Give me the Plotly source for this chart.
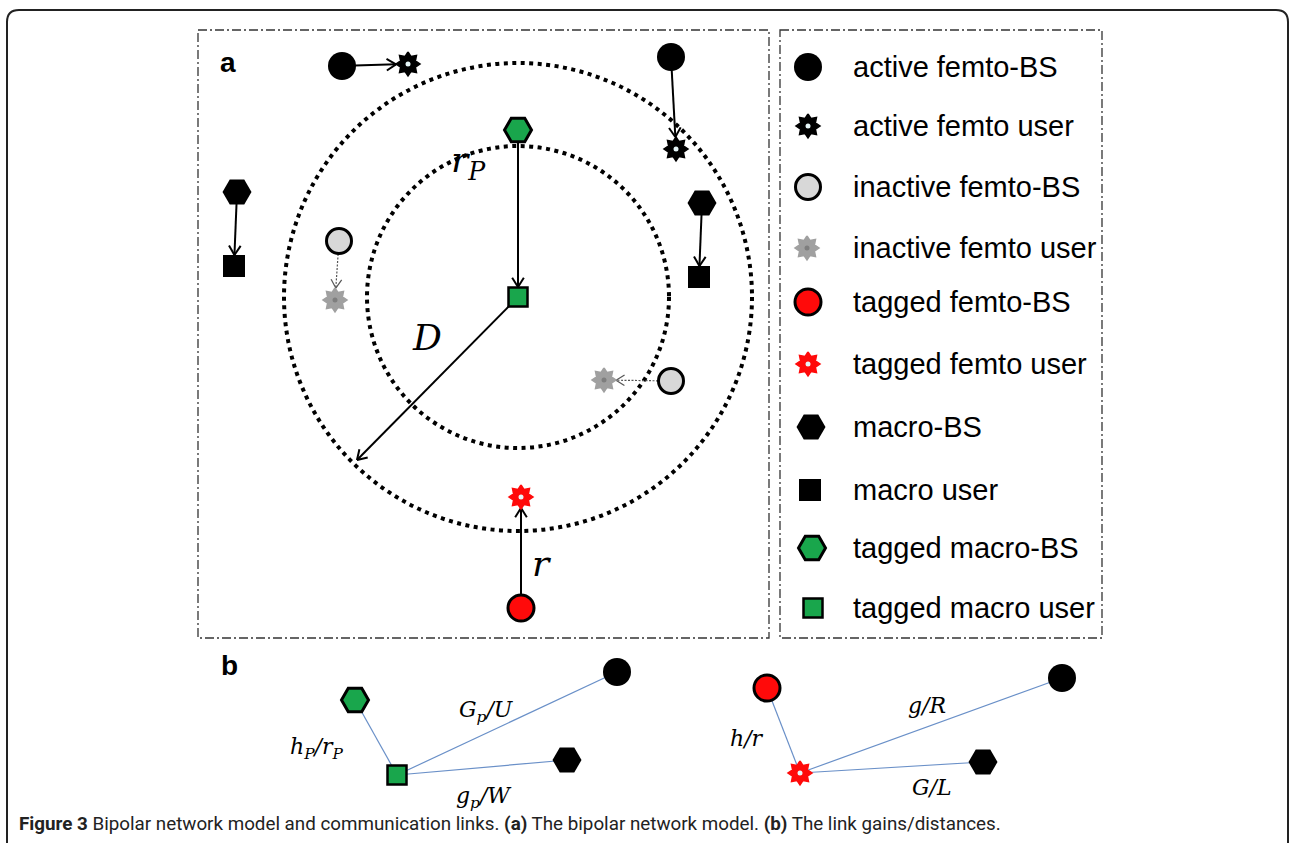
import numpy as np
import plotly.graph_objects as go

W, H = 1290, 843

# ---------------- panel (a): node positions in page pixels ----------------
active_bs_x = [342, 671]
active_bs_y = [66, 57]
active_user_x = [408, 676]
active_user_y = [64, 149]
inactive_bs_x = [339, 671]
inactive_bs_y = [241, 381]
inactive_user_x = [335, 604]
inactive_user_y = [300, 380]
macro_bs_x = [237, 702]
macro_bs_y = [192, 203]
macro_user_x = [234, 699]
macro_user_y = [266, 277]
tagged_macro_bs = (518, 130)
tagged_macro_user = (518, 297)
tagged_femto_bs = (521, 608)
tagged_femto_user = (521, 497)
inner_radius = 151
outer_radius = 234
d_arrow_tip = (357, 460)

# ---------------- legend ----------------
legend_labels = ["active femto-BS", "active femto user", "inactive femto-BS",
                 "inactive femto user", "tagged femto-BS", "tagged femto user",
                 "macro-BS", "macro user", "tagged macro-BS", "tagged macro user"]
legend_kinds = ["abs", "auser", "ibs", "iuser", "tbs", "tuser",
                "mbs", "muser", "tmbs", "tmuser"]
legend_y = [67, 126, 187, 248, 302, 364, 427, 490, 548, 608]
legend_sym_x = [808, 808, 808, 807, 808, 808, 811, 810, 812, 813]

# ---------------- panel (b): link diagrams ----------------
b_left_user = (397, 775)
b_left_nodes = {"tmbs": (355, 700), "abs": (617, 672), "mbs": (567, 760)}
b_left_labels = ["h<sub>P</sub>/r<sub>P</sub>", "G<sub>p</sub>/U", "g<sub>p</sub>/W"]
b_left_label_xy = [(316, 748), (486, 711), (484, 797)]
b_right_user = (800, 773)
b_right_nodes = {"tbs": (767, 688), "abs": (1062, 678), "mbs": (983, 762)}
b_right_labels = ["h/r", "g/R", "G/L"]
b_right_label_xy = [(747, 738), (927, 705), (932, 787)]

GREEN = "#19a64c"
RED = "#ff0a0a"
GRAY_FILL = "#d8d8d8"
STAR_GRAY = "#a0a0a0"
LINK_BLUE = "#6a90c8"

fig = go.Figure()
shapes = []
annotations = []


def add_line(x0, y0, x1, y1, color="black", width=2, dash="solid"):
    shapes.append(dict(type="line", x0=x0, y0=y0, x1=x1, y1=y1, layer="below",
                       line=dict(color=color, width=width, dash=dash)))


def add_arrow(p0, p1, gap0=0, gap1=0, color="black", width=2, dash="solid", head=11):
    x0, y0 = p0
    x1, y1 = p1
    d = np.hypot(x1 - x0, y1 - y0)
    ux, uy = (x1 - x0) / d, (y1 - y0) / d
    sx, sy = x0 + ux * gap0, y0 + uy * gap0
    tx, ty = x1 - ux * gap1, y1 - uy * gap1
    add_line(sx, sy, tx, ty, color, width, dash)
    ang = np.radians(32)
    for s in (1, -1):
        c, sn = np.cos(s * ang), np.sin(s * ang)
        hx = -(ux * c - uy * sn) * head
        hy = -(ux * sn + uy * c) * head
        add_line(tx, ty, tx + hx, ty + hy, color, width if dash == "solid" else 1.2)


def star(cx, cy, fill, dot, r_out=12, r_in=8, n=8):
    ang = np.linspace(0, 2 * np.pi, 2 * n + 1) - np.pi / 2
    rad = np.where(np.arange(2 * n + 1) % 2 == 0, r_out, r_in)
    fig.add_trace(go.Scatter(x=cx + rad * np.cos(ang), y=cy + rad * np.sin(ang),
                             mode="lines", fill="toself", fillcolor=fill,
                             line=dict(color=fill, width=1.5), hoverinfo="skip",
                             showlegend=False))
    fig.add_trace(go.Scatter(x=[cx], y=[cy], mode="markers", hoverinfo="skip",
                             marker=dict(size=5, color=dot, line=dict(width=0)),
                             showlegend=False))


def node(kind, x, y):
    xs = x if isinstance(x, list) else [x]
    ys = y if isinstance(y, list) else [y]
    if kind in ("auser", "iuser", "tuser"):
        fill, dot = {"auser": ("black", "#e6f6f8"), "iuser": (STAR_GRAY, "#7e7e7e"),
                     "tuser": (RED, "#e6f6f8")}[kind]
        for a, b in zip(xs, ys):
            star(a, b, fill, dot)
        return
    style = {
        "abs": dict(symbol="circle", size=28, color="black", line=dict(color="black", width=0)),
        "ibs": dict(symbol="circle", size=25, color=GRAY_FILL, line=dict(color="black", width=3)),
        "tbs": dict(symbol="circle", size=26, color=RED, line=dict(color="black", width=3)),
        "mbs": dict(symbol="hexagon2", size=29, color="black", line=dict(color="black", width=0)),
        "muser": dict(symbol="square", size=22, color="black", line=dict(color="black", width=0)),
        "tmbs": dict(symbol="hexagon2", size=27, color=GREEN, line=dict(color="black", width=3)),
        "tmuser": dict(symbol="square", size=19, color=GREEN, line=dict(color="black", width=2.5)),
    }[kind]
    fig.add_trace(go.Scatter(x=xs, y=ys, mode="markers", marker=style,
                             hoverinfo="skip", showlegend=False))


# outer rounded frame of the figure
fx0, fy0, fx1, fy1, rr = 7, 10, 1288, 870, 12
shapes.append(dict(type="path", layer="below", line=dict(color="#222", width=2),
                   path=(f"M{fx0},{fy1} V{fy0 + rr} Q{fx0},{fy0} {fx0 + rr},{fy0} "
                         f"H{fx1 - rr} Q{fx1},{fy0} {fx1},{fy0 + rr} V{fy1}")))

# dash-dot panel frames
for (x0, y0, x1, y1) in [(198, 30, 769, 638), (780, 30, 1102, 638)]:
    shapes.append(dict(type="rect", x0=x0, y0=y0, x1=x1, y1=y1, layer="below",
                       line=dict(color="#333", width=1.3, dash="9px,3px,2px,3px")))

# coverage circles around the tagged macro user
cx, cy = tagged_macro_user
for r in (inner_radius, outer_radius):
    shapes.append(dict(type="circle", x0=cx - r, y0=cy - r, x1=cx + r, y1=cy + r,
                       layer="below", line=dict(color="black", width=4, dash="4px,4.5px")))

# links in panel (a)
for bx, by, ux_, uy_ in zip(active_bs_x, active_bs_y, active_user_x, active_user_y):
    add_arrow((bx, by), (ux_, uy_), gap0=13, gap1=12)
for bx, by, ux_, uy_ in zip(macro_bs_x, macro_bs_y, macro_user_x, macro_user_y):
    add_arrow((bx, by), (ux_, uy_), gap0=11, gap1=11)
for bx, by, ux_, uy_ in zip(inactive_bs_x, inactive_bs_y, inactive_user_x, inactive_user_y):
    add_arrow((bx, by), (ux_, uy_), gap0=13, gap1=12, color="#555", width=1.2, dash="2px,1.5px", head=10)
add_arrow(tagged_macro_bs, tagged_macro_user, gap0=11, gap1=10)
add_arrow(tagged_macro_user, d_arrow_tip, gap0=11, gap1=0)
add_arrow(tagged_femto_bs, tagged_femto_user, gap0=13, gap1=11)

# links in panel (b)
for p in b_left_nodes.values():
    add_line(b_left_user[0], b_left_user[1], p[0], p[1], LINK_BLUE, 1.2)
for p in b_right_nodes.values():
    add_line(b_right_user[0], b_right_user[1], p[0], p[1], LINK_BLUE, 1.2)

# nodes of panel (a)
node("abs", active_bs_x, active_bs_y)
node("auser", active_user_x, active_user_y)
node("ibs", inactive_bs_x, inactive_bs_y)
node("iuser", inactive_user_x, inactive_user_y)
node("mbs", macro_bs_x, macro_bs_y)
node("muser", macro_user_x, macro_user_y)
node("tmbs", *tagged_macro_bs)
node("tmuser", *tagged_macro_user)
node("tbs", *tagged_femto_bs)
node("tuser", *tagged_femto_user)

# legend symbols and labels
for kind, lab, ly, sx in zip(legend_kinds, legend_labels, legend_y, legend_sym_x):
    node(kind, sx, ly)
    annotations.append(dict(x=851, y=ly, text=lab, showarrow=False, xanchor="left",
                            yanchor="middle",
                            font=dict(family="Liberation Sans, Arial", size=29, color="black")))

# nodes of panel (b)
for kind, p in b_left_nodes.items():
    node(kind, *p)
node("tmuser", *b_left_user)
for kind, p in b_right_nodes.items():
    node(kind, *p)
node("tuser", *b_right_user)

# math labels
math_font = dict(family="DejaVu Serif", size=36, color="black")
for txt, (tx, ty) in [("<i>r</i><sub><i>P</i></sub>", (468, 162)),
                      ("<i>D</i>", (427, 337)), ("<i>r</i>", (541, 563))]:
    annotations.append(dict(x=tx, y=ty, text=txt, showarrow=False, font=math_font))
small_math = dict(family="DejaVu Serif", size=22, color="black")
for txt, (tx, ty) in list(zip(b_left_labels, b_left_label_xy)) + list(zip(b_right_labels, b_right_label_xy)):
    annotations.append(dict(x=tx, y=ty, text="<i>" + txt + "</i>", showarrow=False, font=small_math))

# panel letters
for txt, (tx, ty) in [("a", (228, 62)), ("b", (229, 665))]:
    annotations.append(dict(x=tx, y=ty, text="<b>" + txt + "</b>", showarrow=False,
                            font=dict(family="Liberation Sans, Arial", size=28, color="black")))

# caption
annotations.append(dict(
    x=17, y=824, xanchor="left", yanchor="middle", showarrow=False,
    text=("<b>Figure 3</b> Bipolar network model and communication links. "
          "<b>(a)</b> The bipolar network model. <b>(b)</b> The link gains/distances."),
    font=dict(family="Roboto", size=18.8, color="#222")))

fig.update_layout(
    width=W, height=H, autosize=False,
    margin=dict(l=0, r=0, t=0, b=0, pad=0),
    paper_bgcolor="white", plot_bgcolor="white",
    xaxis=dict(range=[0, W], visible=False, fixedrange=True),
    yaxis=dict(range=[H, 0], visible=False, fixedrange=True),
    shapes=shapes, annotations=annotations, showlegend=False,
)
fig.write_html("out.html", config={"displayModeBar": False})
